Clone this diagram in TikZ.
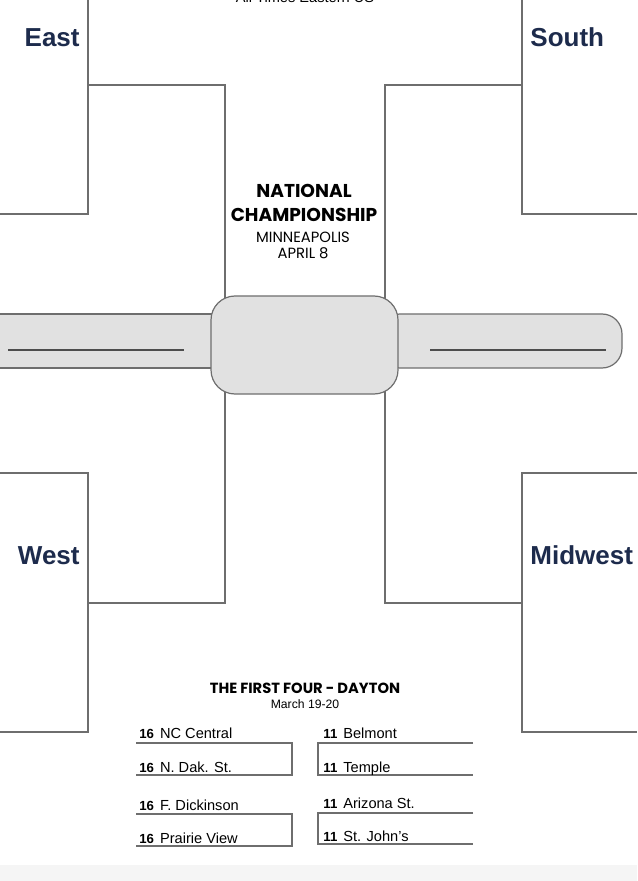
\documentclass[tikz,border=0pt]{standalone}
\usepackage{fontspec}
\setmainfont{Liberation Sans}
\newfontfamily\geo{Poppins}
\usepackage{xcolor}
\definecolor{navy}{HTML}{1D2B4C}
\definecolor{rule}{HTML}{6E6E6E}
\definecolor{boxfill}{HTML}{E1E1E1}
\usetikzlibrary{positioning}

\begin{document}
\begin{tikzpicture}[x=0.5pt, y=-0.5pt,
  br/.style={draw=rule, line width=0.6pt},
  bar/.style={draw=rule, fill=boxfill, line width=0.6pt},
  region/.style={font=\fontsize{13}{15}\selectfont\bfseries, text=navy, inner sep=0pt},
  champ/.style={font=\geo\fontsize{9.3}{11}\selectfont\bfseries, inner sep=0pt},
  city/.style={font=\geo\fontsize{7.4}{9}\selectfont, inner sep=0pt},
  team/.style={font=\fontsize{7.3}{9}\selectfont, inner sep=0pt, anchor=base west}]
\newcommand\seednum[1]{\textbf{\fontsize{6.6}{8}\selectfont #1}\hspace{3pt}}
\useasboundingbox (0,0) rectangle (637,881);
\fill[white] (0,0) rectangle (637,881);
\fill[black!4] (0,865) rectangle (637,881);
% header, cut by the page edge
\node[font=\fontsize{7.3}{9}\selectfont, inner sep=0pt, anchor=base] (tz) at (305,3) {All Times Eastern US};
% regions
\node[region, anchor=base east] (east)    at (80,47)  {East};
\node[region, anchor=base west] (south)   at (530,47) {South};
\node[region, anchor=base east] (west)    at (80,564) {West};
\node[region, anchor=base west] (midwest) at (530,564) {Midwest};
% bracket lines, top half
\draw[br] (0,214) -- (88,214) -- (88,-5);
\draw[br] (88,85) -- (225,85) -- (225,300);
\draw[br] (637,214) -- (522,214) -- (522,-5);
\draw[br] (522,85) -- (385,85) -- (385,300);
% bracket lines, bottom half
\draw[br] (0,473) -- (88,473) -- (88,732) -- (0,732);
\draw[br] (88,603) -- (225,603) -- (225,390);
\draw[br] (637,473) -- (522,473) -- (522,732) -- (637,732);
\draw[br] (522,603) -- (385,603) -- (385,390);
% finalist bars and title box
\draw[bar] (-20,314) rectangle (230,368);
\draw[bar, rounded corners=10] (380,314) rectangle (622,368);
\node[bar, rounded corners=12, minimum width=93.5pt, minimum height=49pt] (final) at (304.5,345) {};
\draw[rule!70!black, line width=0.6pt] (8,350) -- (184,350);
\draw[rule!70!black, line width=0.6pt] (430,350) -- (606,350);
% title
\node[champ, anchor=base] (nat)  at (304,198) {NATIONAL};
\node[champ, anchor=base] (ship) at (304,222) {CHAMPIONSHIP};
\node[city, anchor=base]  (mpls) at (303,243) {MINNEAPOLIS};
\node[city, anchor=base]  (date) at (303,259) {APRIL 8};
% first four
\node[font=\geo\fontsize{7.35}{9}\selectfont\bfseries, inner sep=0pt, anchor=base] (ff) at (305,693) {THE FIRST FOUR - DAYTON};
\node[font=\fontsize{6.1}{7}\selectfont, inner sep=0pt, anchor=base] (ffdate) at (305,708) {March 19-20};
\draw[br] (136,743) -- (292,743) -- (292,775) -- (136,775);
\draw[br] (136,814) -- (292,814) -- (292,846) -- (136,846);
\draw[br] (473,743) -- (318,743) -- (318,775) -- (473,775);
\draw[br] (473,813) -- (318,813) -- (318,844) -- (473,844);
\node[team] (t1) at (139,738) {\seednum{16}NC Central};
\node[team] (t2) at (139,772) {\seednum{16}N. Dak. St.};
\node[team] (t3) at (139,810) {\seednum{16}F. Dickinson};
\node[team] (t4) at (139,843) {\seednum{16}Prairie View};
\node[team] (t5) at (323,738) {\seednum{11}Belmont};
\node[team] (t6) at (323,772) {\seednum{11}Temple};
\node[team] (t7) at (323,808) {\seednum{11}Arizona St.};
\node[team] (t8) at (323,841) {\seednum{11}St. John's};
\end{tikzpicture}
\end{document}
